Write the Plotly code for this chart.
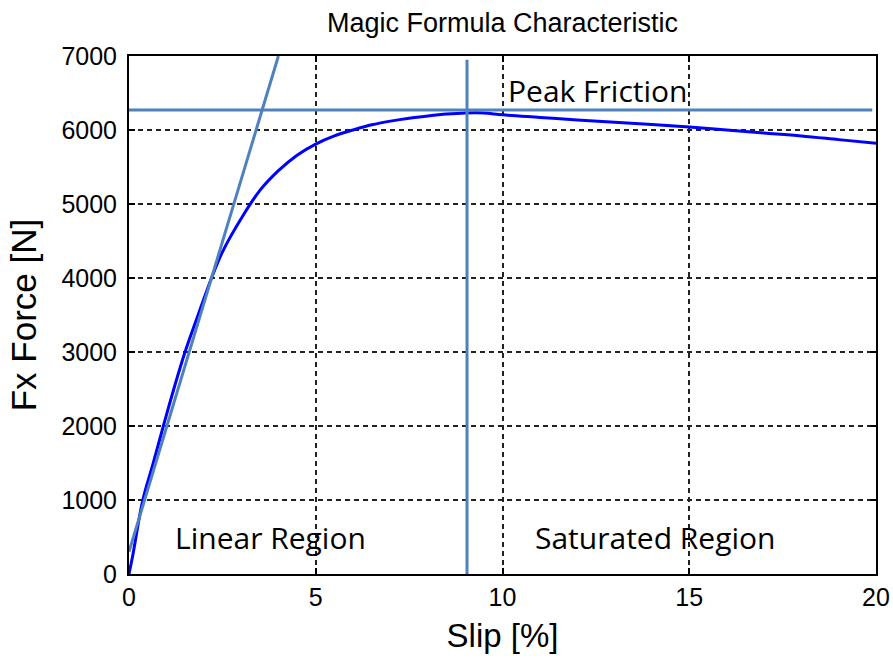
import plotly.graph_objects as go

# Magic Formula curve
slip = [0, 0.1, 0.37, 0.65, 0.92, 1.2, 1.5, 1.85, 2.21, 2.5, 3.0, 3.5, 4.0, 4.5, 5.0, 5.5, 6.0,
        6.5, 7.0, 7.5, 8.0, 8.5, 9.0, 9.5, 10, 11, 12, 13, 14, 15, 16, 17, 18, 19, 20]
force = [0, 250, 1000, 1500, 2000, 2500, 3000, 3500, 4000, 4350, 4800, 5180, 5450, 5660, 5810, 5920, 6000,
         6070, 6120, 6160, 6190, 6215, 6230, 6230, 6205, 6170, 6135, 6105, 6075, 6040, 6000, 5960, 5920, 5870, 5820]

# Linear tangent line
tangent_x = [0, 4.0]
tangent_y = [300, 7000]

# Peak friction horizontal line
peak_x = [0, 19.9]
peak_y = [6270, 6270]

# Vertical divider
divider_x = [9.05, 9.05]
divider_y = [0, 6950]

# Annotations
labels = ["Peak Friction", "Linear Region", "Saturated Region"]
label_x = [12.55, 3.78, 14.1]
label_y = [6530, 490, 490]

xticks = [0, 5, 10, 15, 20]
yticks = [0, 1000, 2000, 3000, 4000, 5000, 6000, 7000]

fig = go.Figure()
fig.add_trace(go.Scatter(x=slip, y=force, mode="lines", line_shape="spline",
                         line=dict(color="#0000FF", width=3), showlegend=False))
fig.add_trace(go.Scatter(x=tangent_x, y=tangent_y, mode="lines",
                         line=dict(color="#4F81BD", width=3), showlegend=False))
fig.add_trace(go.Scatter(x=peak_x, y=peak_y, mode="lines",
                         line=dict(color="#4F81BD", width=3), showlegend=False))
fig.add_trace(go.Scatter(x=divider_x, y=divider_y, mode="lines",
                         line=dict(color="#4F81BD", width=3), showlegend=False))

for t, xx, yy in zip(labels, label_x, label_y):
    fig.add_annotation(x=xx, y=yy, text=t, showarrow=False,
                       font=dict(family="Open Sans", size=30, color="black"),
                       xanchor="center", yanchor="middle")

fig.update_layout(
    width=893, height=660,
    margin=dict(l=129, r=17, t=56, b=86, autoexpand=False),
    paper_bgcolor="white", plot_bgcolor="white",
    font=dict(family="Liberation Sans, Arial", color="black"),
    title=dict(text="Magic Formula Characteristic",
               font=dict(family="Liberation Sans, Arial", size=27, color="black"),
               x=0.5, xref="paper", xanchor="center",
               y=1 - 23 / 660, yref="container", yanchor="middle"),
)
fig.update_xaxes(
    range=[0, 20], tickvals=xticks, ticktext=[str(v) for v in xticks],
    showline=True, linecolor="black", linewidth=2, mirror="ticks",
    ticks="inside", ticklen=6, tickcolor="black", tickwidth=1.5,
    showgrid=True, gridcolor="#222222", gridwidth=1.5, griddash="5px,4px",
    zeroline=False, tickfont=dict(size=25, color="black"), automargin=False,
    title=dict(text="Slip [%]", font=dict(size=33, color="black"), standoff=14),
)
fig.update_yaxes(
    range=[0, 7000], tickvals=yticks, ticktext=[str(v) for v in yticks],
    showline=True, linecolor="black", linewidth=2, mirror="ticks",
    ticks="inside", ticklen=6, tickcolor="black", tickwidth=1.5,
    showgrid=True, gridcolor="#222222", gridwidth=1.5, griddash="5px,4px",
    zeroline=False, tickfont=dict(size=25, color="black"), automargin=False,
    ticklabelstandoff=5,
    title=dict(text="Fx Force [N]", font=dict(size=35, color="black"), standoff=14),
)

fig.write_html("out.html")
